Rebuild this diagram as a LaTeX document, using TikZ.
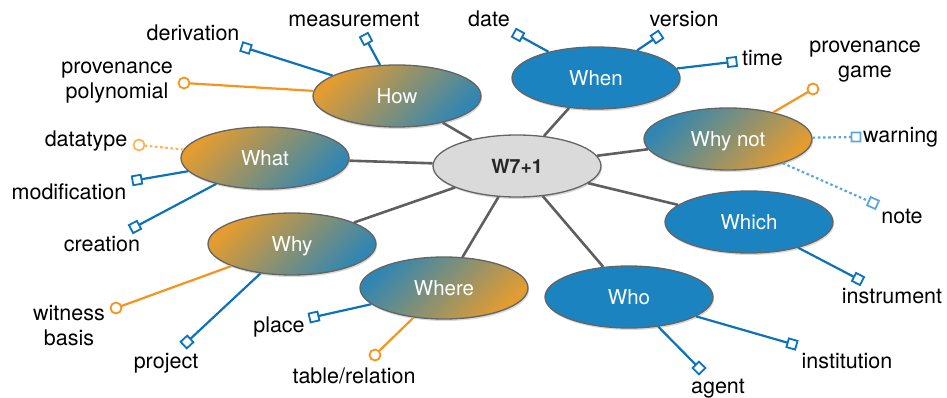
\documentclass[tikz,border=0pt]{standalone}
\usepackage{fontspec}
\setmainfont{TeX Gyre Heros}
\usetikzlibrary{shapes.geometric,shadows}
\definecolor{solidblue}{RGB}{28,131,193}
\definecolor{gorange}{RGB}{228,156,48}
\definecolor{gblue}{RGB}{48,134,178}
\definecolor{hubgray}{RGB}{218,218,218}
\definecolor{ellborder}{RGB}{100,100,100}
\definecolor{hubline}{RGB}{95,95,95}
\definecolor{lineblue}{RGB}{12,115,186}
\definecolor{lineorange}{RGB}{247,148,30}
\definecolor{lightblue}{RGB}{90,168,218}
\definecolor{lightorange}{RGB}{250,183,90}
\begin{document}
\begin{tikzpicture}[x=1pt,y=-1pt,
  ell/.style={ellipse, draw=ellborder, line width=1.3pt, minimum width=168pt, minimum height=62pt,
    inner sep=0pt, font=\fontsize{20.5}{23}\selectfont, text=white, text height=14.5pt, text depth=0pt,
    drop shadow={shadow xshift=1pt,shadow yshift=-2pt,opacity=0.3}},
  solidell/.style={ell, fill=solidblue},
  obell/.style={ell, top color=gorange, bottom color=gblue, shading angle=45},
  boell/.style={ell, top color=gblue, bottom color=gorange, shading angle=45},
  hub/.style={ell, fill=hubgray, text=black!85, font=\fontsize{19.5}{22}\selectfont\bfseries},
  hubconn/.style={draw=hubline, line width=2.6pt},
  bline/.style={draw=lineblue, line width=2.2pt},
  oline/.style={draw=lineorange, line width=2.2pt},
  lbline/.style={draw=lightblue, line width=2.2pt, dash pattern=on 2.6pt off 2.6pt},
  loline/.style={draw=lightorange, line width=2.2pt, dash pattern=on 2.6pt off 2.6pt},
  sqm/.style={rectangle, draw=lineblue, fill=white, line width=1.8pt, minimum size=9pt, inner sep=0pt, solid},
  lsqm/.style={sqm, draw=lightblue},
  cim/.style={circle, draw=lineorange, fill=white, line width=1.8pt, minimum size=11pt, inner sep=0pt, solid},
  lcim/.style={cim, draw=lightorange},
  lab/.style={font=\fontsize{21.5}{25}\selectfont, inner sep=0pt, align=center, text=black}
]
\useasboundingbox (0,0) rectangle (947,398);

% main ellipses
\node[hub] (W) at (517,166) {W7+1};
\node[obell] (How) at (397,96) {How};
\node[obell] (What) at (265,158) {What};
\node[obell] (Why) at (292,244) {Why};
\node[boell] (Where) at (444,288) {Where};
\node[solidell] (When) at (596,78) {When};
\node[boell] (WhyNot) at (728,139) {Why not};
\node[solidell] (Which) at (749,222) {Which};
\node[solidell] (Who) at (629,297) {Who};

% hub connectors
\foreach \n in {How,What,Why,Where,When,WhyNot,Which,Who}
  \draw[hubconn] (W) -- (\n);

% marker coordinates
\coordinate (cDeriv) at (246,48);
\coordinate (cMeas) at (366,39);
\coordinate (cPoly) at (184,83);
\coordinate (cDtype) at (139,145);
\coordinate (cModif) at (137,180);
\coordinate (cCreat) at (135,227);
\coordinate (cWit) at (116,308);
\coordinate (cProj) at (187,342);
\coordinate (cPlace) at (314,317);
\coordinate (cTable) at (375,355);
\coordinate (cDate) at (518,35);
\coordinate (cVers) at (657,37);
\coordinate (cTime) at (732,62);
\coordinate (cGame) at (813,89);
\coordinate (cWarn) at (856,137);
\coordinate (cNote) at (873,203);
\coordinate (cInstr) at (858,279);
\coordinate (cAgent) at (699,368);
\coordinate (cInst) at (792,344);

% leaf connectors with markers
\draw[bline] (How) -- (cDeriv) node[sqm, sloped, pos=1] (mDeriv) {};
\draw[bline] (How) -- (cMeas) node[sqm, sloped, pos=1] (mMeas) {};
\draw[oline] (How) -- (cPoly) node[cim, pos=1] (mPoly) {};
\draw[loline] (What) -- (cDtype) node[lcim, pos=1] (mDtype) {};
\draw[bline] (What) -- (cModif) node[sqm, sloped, pos=1] (mModif) {};
\draw[bline] (What) -- (cCreat) node[sqm, sloped, pos=1] (mCreat) {};
\draw[oline] (Why) -- (cWit) node[cim, pos=1] (mWit) {};
\draw[bline] (Why) -- (cProj) node[sqm, sloped, pos=1] (mProj) {};
\draw[bline] (Where) -- (cPlace) node[sqm, sloped, pos=1] (mPlace) {};
\draw[oline] (Where) -- (cTable) node[cim, pos=1] (mTable) {};
\draw[bline] (When) -- (cDate) node[sqm, sloped, pos=1] (mDate) {};
\draw[bline] (When) -- (cVers) node[sqm, sloped, pos=1] (mVers) {};
\draw[bline] (When) -- (cTime) node[sqm, sloped, pos=1] (mTime) {};
\draw[oline] (WhyNot) -- (cGame) node[cim, pos=1] (mGame) {};
\draw[lbline] (WhyNot) -- (cWarn) node[lsqm, sloped, pos=1] (mWarn) {};
\draw[lbline] (WhyNot) -- (cNote) node[lsqm, sloped, pos=1] (mNote) {};
\draw[bline] (Which) -- (cInstr) node[sqm, sloped, pos=1] (mInstr) {};
\draw[bline] (Who) -- (cAgent) node[sqm, sloped, pos=1] (mAgent) {};
\draw[bline] (Who) -- (cInst) node[sqm, sloped, pos=1] (mInst) {};

% labels
\node[lab, anchor=base] (tDeriv) at (193,41) {derivation};
\node[lab, anchor=base] (tMeas) at (354,27) {measurement};
\node[lab, anchor=base] (tPoly) at (117,99) {provenance\\polynomial};
\node[lab, anchor=base] (tDtype) at (86,147) {datatype};
\node[lab, anchor=base] (tModif) at (69,200) {modification};
\node[lab, anchor=base] (tCreat) at (102,251) {creation};
\node[lab, anchor=base] (tWit) at (69,345) {witness\\basis};
\node[lab, anchor=base] (tProj) at (166,368) {project};
\node[lab, anchor=base] (tPlace) at (279,332) {place};
\node[lab, anchor=base] (tTable) at (354,383) {table/relation};
\node[lab, anchor=base] (tDate) at (489,27) {date};
\node[lab, anchor=base] (tVers) at (684,27) {version};
\node[lab, anchor=base west] (tTime) at (742,66) {time};
\node[lab, anchor=base] (tGame) at (865,78) {provenance\\game};
\node[lab, anchor=base west] (tWarn) at (863,143) {warning};
\node[lab, anchor=base] (tNote) at (902,223) {note};
\node[lab, anchor=base] (tInstr) at (892,303) {instrument};
\node[lab, anchor=base] (tInst) at (847,368) {institution};
\node[lab, anchor=base] (tAgent) at (718,393) {agent};
\end{tikzpicture}
\end{document}
